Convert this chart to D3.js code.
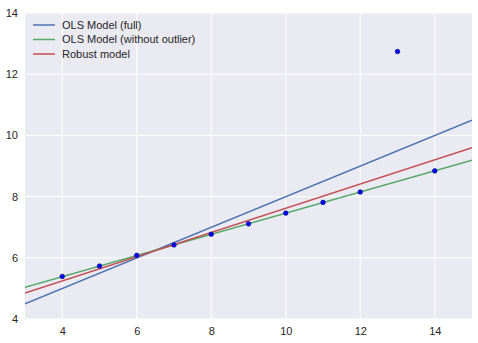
<!DOCTYPE html>
<html>
<head>
<meta charset="utf-8">
<script src="https://cdn.jsdelivr.net/npm/d3@7"></script>
<style>
  body { margin: 0; background: #fff; }
  svg text { font-family: "Liberation Sans", Arial, sans-serif; font-size: 11px; fill: #262626; }
</style>
</head>
<body>
<div id="chart"></div>
<script>
// observed points
var xs = [10, 8, 13, 9, 11, 14, 6, 4, 12, 7, 5];
var ys = [7.46, 6.77, 12.74, 7.11, 7.81, 8.84, 6.08, 5.39, 8.15, 6.42, 5.73];

// fitted lines, read at both ends of the axis
var lineX = [3, 15];
var olsFull = [4.5, 10.5];
var olsNoOutlier = [5.04, 9.19];
var robust = [4.85, 9.6];

var seriesNames = ["OLS Model (full)", "OLS Model (without outlier)", "Robust model"];
var seriesColors = ["#4c72b0", "#55a868", "#c44e52"];
var xTicks = [4, 6, 8, 10, 12, 14];
var yTicks = [4, 6, 8, 10, 12, 14];

var width = 478, height = 343;
var margin = {top: 13, right: 6, bottom: 24, left: 25};
var chartWidth = width - margin.left - margin.right;
var chartHeight = height - margin.top - margin.bottom;

var svg = d3.select("#chart").append("svg")
    .attr("width", width)
    .attr("height", height)
  .append("g")
    .attr("transform", `translate(${margin.left}, ${margin.top})`);

var xScale = d3.scaleLinear().domain([3, 15]).range([0, chartWidth]);
var yScale = d3.scaleLinear().domain([4, 14]).range([chartHeight, 0]);

svg.append("rect")
    .attr("width", chartWidth)
    .attr("height", chartHeight)
    .attr("fill", "#eaeaf2");

// grid
svg.append("g").selectAll("line")
    .data(xTicks).enter().append("line")
    .attr("x1", d => xScale(d)).attr("x2", d => xScale(d))
    .attr("y1", 0).attr("y2", chartHeight)
    .attr("stroke", "#fff").attr("stroke-width", 1);
svg.append("g").selectAll("line")
    .data(yTicks).enter().append("line")
    .attr("y1", d => yScale(d)).attr("y2", d => yScale(d))
    .attr("x1", 0).attr("x2", chartWidth)
    .attr("stroke", "#fff").attr("stroke-width", 1);

var xAxis = d3.axisBottom(xScale).tickValues(xTicks).tickSize(0).tickPadding(8);
var yAxis = d3.axisLeft(yScale).tickValues(yTicks).tickSize(0).tickPadding(7);

svg.append("g")
    .attr("class", "x axis")
    .attr("transform", `translate(0,${chartHeight})`)
    .call(xAxis)
    .call(g => g.select(".domain").remove());

svg.append("g")
    .attr("class", "y axis")
    .call(yAxis)
    .call(g => g.select(".domain").remove());

svg.selectAll("g.axis text").attr("font-size", 11).attr("font-family", null);

var fits = [olsFull, olsNoOutlier, robust];
var line = d3.line().x(d => xScale(d[0])).y(d => yScale(d[1]));

var clip = svg.append("clipPath").attr("id", "clip")
  .append("rect").attr("width", chartWidth).attr("height", chartHeight);

var plot = svg.append("g").attr("clip-path", "url(#clip)");

fits.forEach(function(f, i) {
  plot.append("path")
      .datum(lineX.map((x, j) => [x, f[j]]))
      .attr("d", line)
      .attr("fill", "none")
      .attr("stroke", seriesColors[i])
      .attr("stroke-width", 1.5);
});

plot.selectAll(".dot")
    .data(xs.map((x, i) => [x, ys[i]]))
    .enter().append("circle")
    .attr("class", "dot")
    .attr("cx", d => xScale(d[0]))
    .attr("cy", d => yScale(d[1]))
    .attr("r", 2.3)
    .attr("fill", "#0000ff")
    .attr("stroke", "#00007a")
    .attr("stroke-width", 0.6);

// legend
var legend = svg.append("g").attr("transform", "translate(8, 12)");
seriesNames.forEach(function(name, i) {
  var row = legend.append("g").attr("transform", `translate(0, ${i * 14.5})`);
  row.append("line")
      .attr("x1", 0).attr("x2", 22)
      .attr("stroke", seriesColors[i])
      .attr("stroke-width", 1.5);
  row.append("text")
      .attr("x", 29)
      .attr("dy", "0.35em")
      .text(name);
});
</script>
</body>
</html>
